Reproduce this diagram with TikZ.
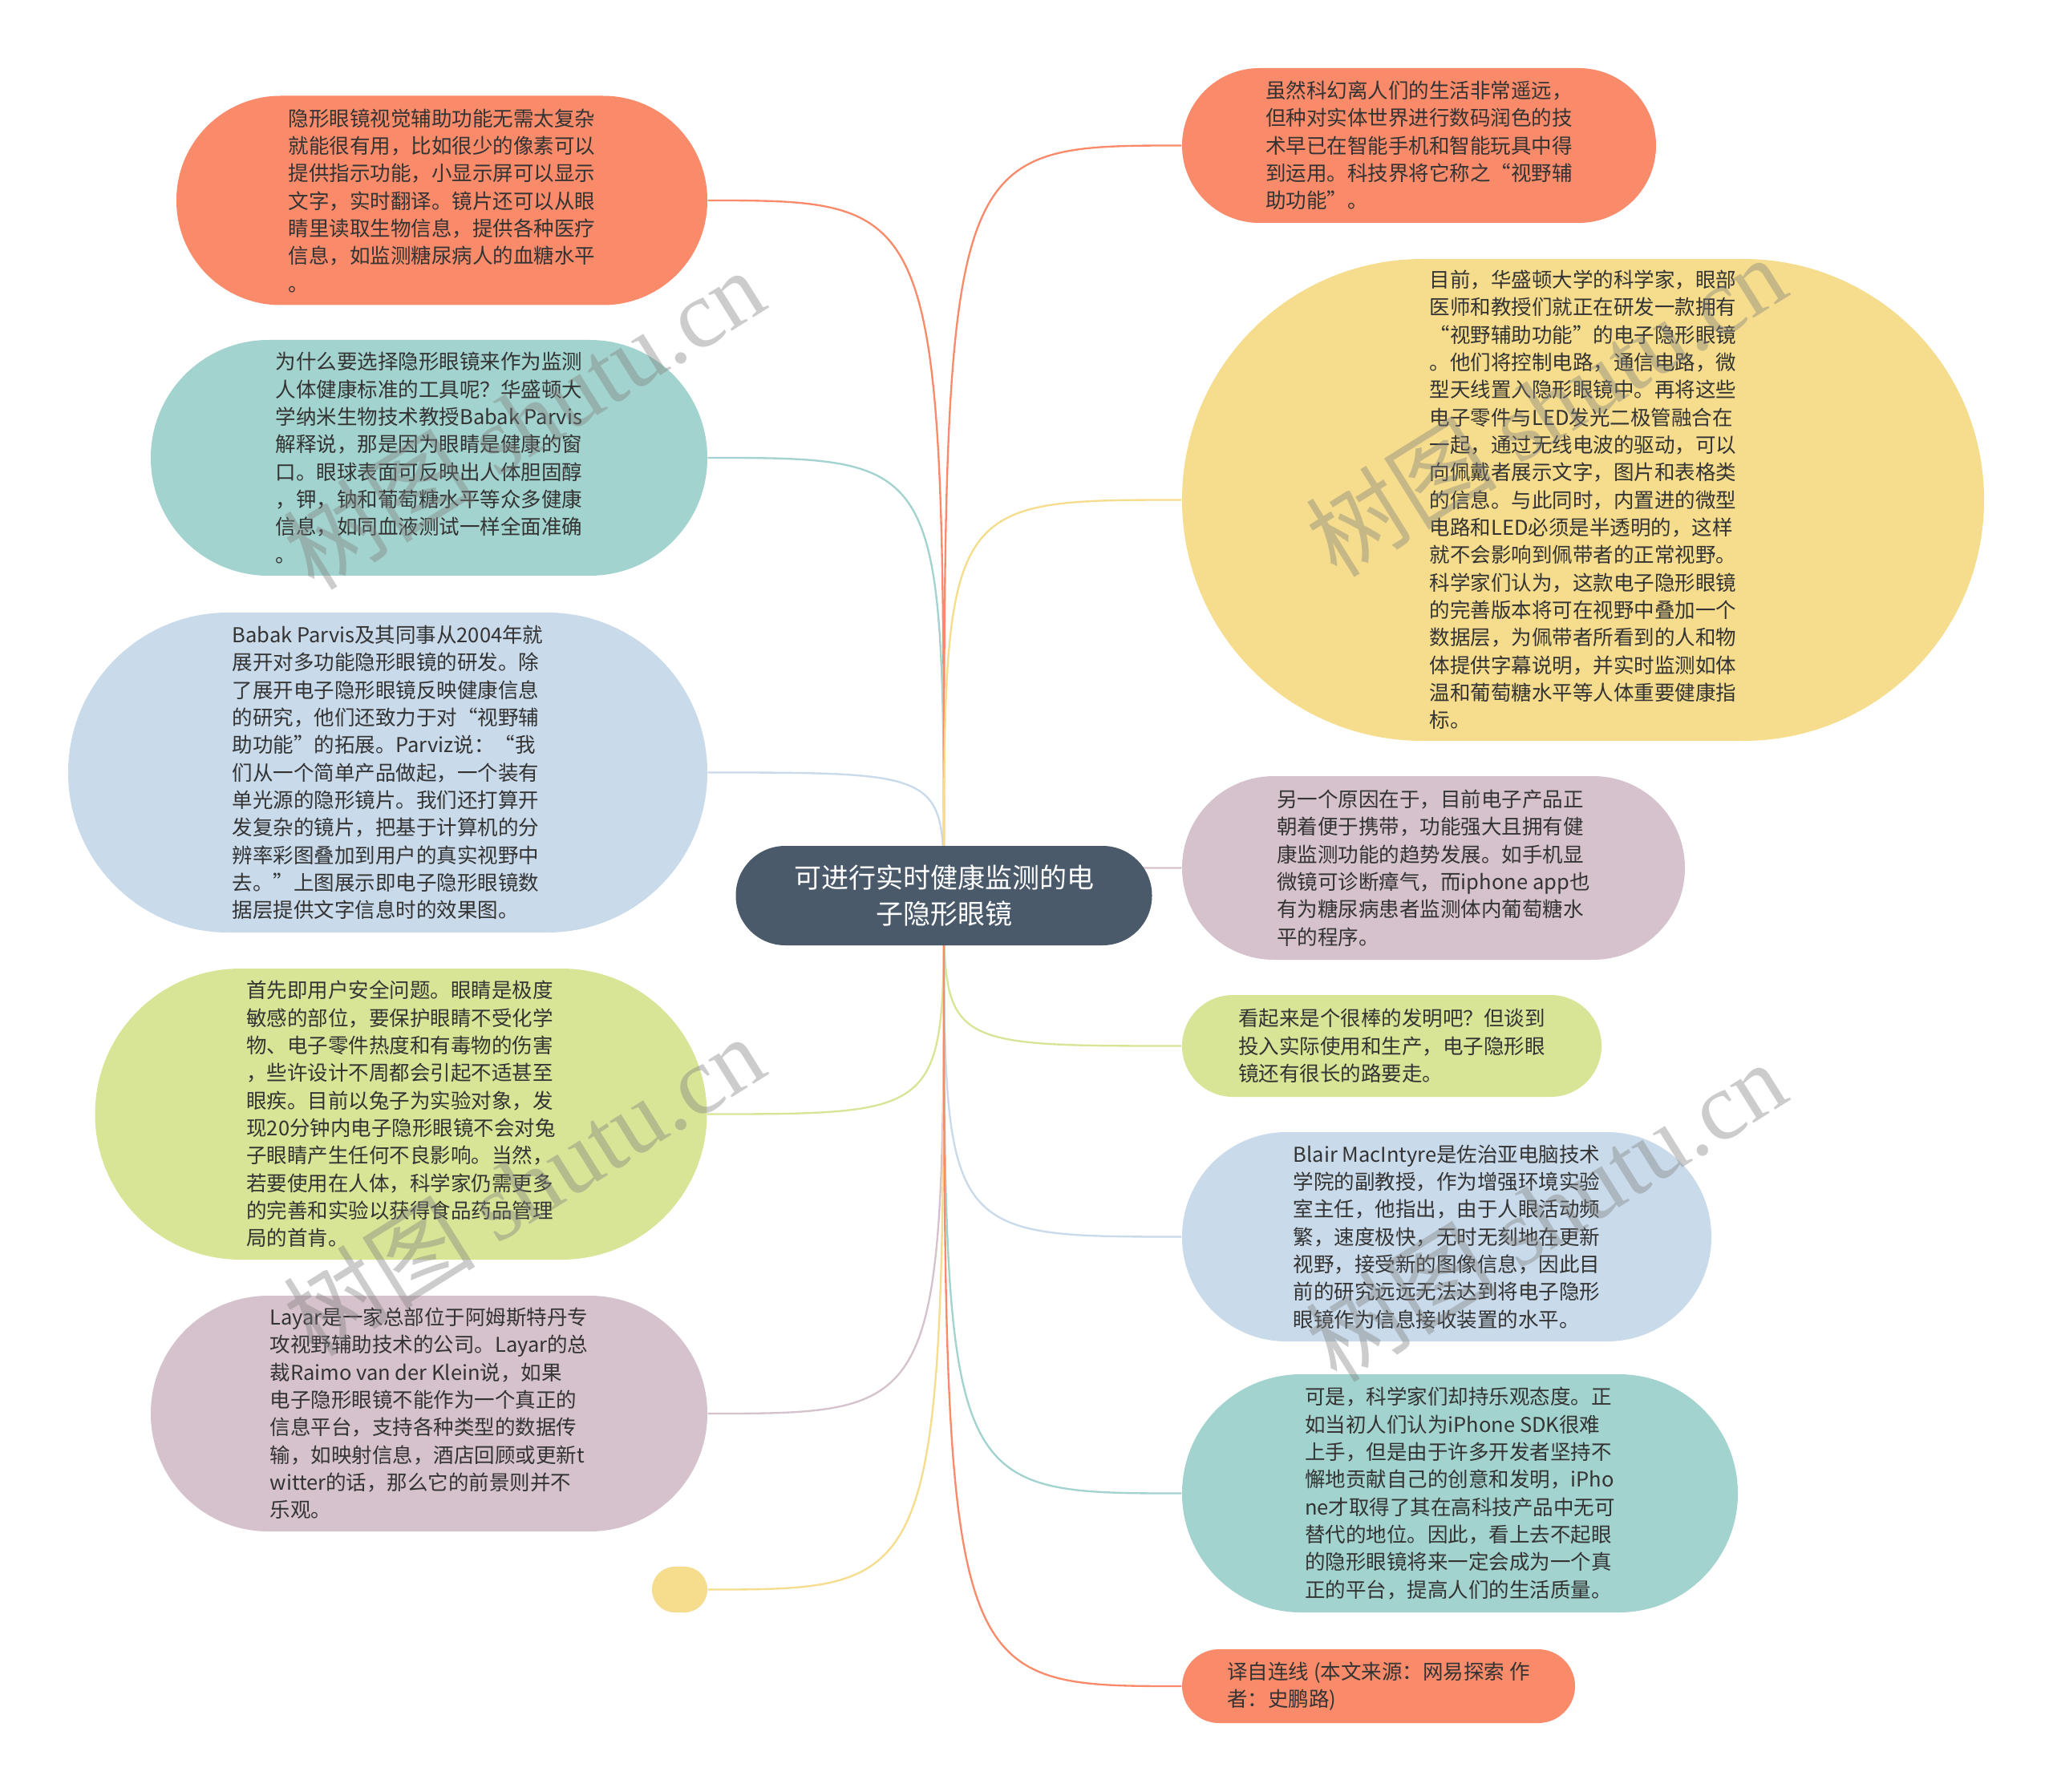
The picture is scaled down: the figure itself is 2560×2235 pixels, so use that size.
\documentclass[tikz,border=0pt]{standalone}
\usepackage{fontspec}
\setmainfont{Noto Sans CJK SC}
\newfontfamily\wmserif{Liberation Serif}
\definecolor{corange}{HTML}{F98B6B}
\definecolor{cteal}{HTML}{A3D3CE}
\definecolor{cblue}{HTML}{C9DAEA}
\definecolor{cgreen}{HTML}{D8E597}
\definecolor{cpink}{HTML}{D6C2CC}
\definecolor{cyellow}{HTML}{F6DD8D}
\definecolor{croot}{HTML}{4A5A6A}
\definecolor{textc}{HTML}{333333}
\pgfdeclarelayer{bg}
\pgfsetlayers{bg,main}
\tikzset{
  box/.style={inner sep=0pt, align=left, text=textc, font=\fontsize{7.65pt}{10.3pt}\selectfont},
  rootbox/.style={inner sep=0pt, align=center, text=white, fill=croot, font=\fontsize{10.2pt}{13.7pt}\selectfont,
    minimum width=155.7pt, minimum height=37.2pt, rounded corners=18.5pt},
  edge/.style={line width=0.7pt},
  wm/.style={text=gray, text opacity=0.4, font=\fontsize{36pt}{40pt}\selectfont, rotate=32}
}
\begin{document}
\begin{tikzpicture}[x=0.3pt,y=-0.3pt]
\useasboundingbox (0,0) rectangle (2560,2235);

\node[rootbox] (root) at (1177,1117) {可进行实时健康监测的电\\子隐形眼镜};

% left side
\node[box, fill=corange, minimum width=198.6pt, minimum height=78.3pt, rounded corners=39pt] (l1) at (551,250) {隐形眼镜视觉辅助功能无需太复杂\\就能很有用，比如很少的像素可以\\提供指示功能，小显示屏可以显示\\文字，实时翻译。镜片还可以从眼\\睛里读取生物信息，提供各种医疗\\信息，如监测糖尿病人的血糖水平\\。};
\node[box, fill=cteal, minimum width=208.2pt, minimum height=88.2pt, rounded corners=44pt] (l2) at (535,571) {为什么要选择隐形眼镜来作为监测\\人体健康标准的工具呢？华盛顿大\\学纳米生物技术教授Babak Parvis\\解释说，那是因为眼睛是健康的窗\\口。眼球表面可反映出人体胆固醇\\，钾，钠和葡萄糖水平等众多健康\\信息，如同血液测试一样全面准确\\。};
\node[box, fill=cblue, minimum width=239.1pt, minimum height=119.7pt, rounded corners=59.8pt] (l3) at (483.5,963.5) {Babak Parvis及其同事从2004年就\\展开对多功能隐形眼镜的研发。除\\了展开电子隐形眼镜反映健康信息\\的研究，他们还致力于对“视野辅\\助功能”的拓展。Parviz说：“我\\们从一个简单产品做起，一个装有\\单光源的隐形镜片。我们还打算开\\发复杂的镜片，把基于计算机的分\\辨率彩图叠加到用户的真实视野中\\去。”上图展示即电子隐形眼镜数\\据层提供文字信息时的效果图。};
\node[box, fill=cgreen, minimum width=228.9pt, minimum height=108.9pt, rounded corners=54.4pt] (l4) at (500,1389.5) {首先即用户安全问题。眼睛是极度\\敏感的部位，要保护眼睛不受化学\\物、电子零件热度和有毒物的伤害\\，些许设计不周都会引起不适甚至\\眼疾。目前以兔子为实验对象，发\\现20分钟内电子隐形眼镜不会对兔\\子眼睛产生任何不良影响。当然，\\若要使用在人体，科学家仍需更多\\的完善和实验以获得食品药品管理\\局的首肯。};
\node[box, fill=cpink, minimum width=208.2pt, minimum height=88.2pt, rounded corners=44pt] (l5) at (535,1763) {Layar是一家总部位于阿姆斯特丹专\\攻视野辅助技术的公司。Layar的总\\裁Raimo van der Klein说，如果\\电子隐形眼镜不能作为一个真正的\\信息平台，支持各种类型的数据传\\输，如映射信息，酒店回顾或更新t\\witter的话，那么它的前景则并不\\乐观。};
\node[box, fill=cyellow, minimum width=20.7pt, minimum height=17.1pt, rounded corners=8.5pt] (l6) at (847.5,1982.5) {};

% right side
\node[box, fill=corange, minimum width=177.3pt, minimum height=57.9pt, rounded corners=28.9pt] (r1) at (1769.5,181.5) {虽然科幻离人们的生活非常遥远，\\但种对实体世界进行数码润色的技\\术早已在智能手机和智能玩具中得\\到运用。科技界将它称之“视野辅\\助功能”。};
\node[box, fill=cyellow, minimum width=300pt, minimum height=180.3pt, rounded corners=90pt] (r2) at (1974,623.5) {目前，华盛顿大学的科学家，眼部\\医师和教授们就正在研发一款拥有\\“视野辅助功能”的电子隐形眼镜\\。他们将控制电路，通信电路，微\\型天线置入隐形眼镜中。再将这些\\电子零件与LED发光二极管融合在\\一起，通过无线电波的驱动，可以\\向佩戴者展示文字，图片和表格类\\的信息。与此同时，内置进的微型\\电路和LED必须是半透明的，这样\\就不会影响到佩带者的正常视野。\\科学家们认为，这款电子隐形眼镜\\的完善版本将可在视野中叠加一个\\数据层，为佩带者所看到的人和物\\体提供字幕说明，并实时监测如体\\温和葡萄糖水平等人体重要健康指\\标。};
\node[box, fill=cpink, minimum width=188.1pt, minimum height=68.7pt, rounded corners=34.3pt] (r3) at (1787.5,1082.5) {另一个原因在于，目前电子产品正\\朝着便于携带，功能强大且拥有健\\康监测功能的趋势发展。如手机显\\微镜可诊断瘴气，而iphone app也\\有为糖尿病患者监测体内葡萄糖水\\平的程序。};
\node[box, fill=cgreen, minimum width=156.9pt, minimum height=38.1pt, rounded corners=19pt] (r4) at (1735.5,1304.5) {看起来是个很棒的发明吧？但谈到\\投入实际使用和生产，电子隐形眼\\镜还有很长的路要走。};
\node[box, fill=cblue, minimum width=198pt, minimum height=78.3pt, rounded corners=39pt] (r5) at (1804,1542.5) {Blair MacIntyre是佐治亚电脑技术\\学院的副教授，作为增强环境实验\\室主任，他指出，由于人眼活动频\\繁，速度极快，无时无刻地在更新\\视野，接受新的图像信息，因此目\\前的研究远远无法达到将电子隐形\\眼镜作为信息接收装置的水平。};
\node[box, fill=cteal, minimum width=207.9pt, minimum height=89.1pt, rounded corners=44.5pt] (r6) at (1820.5,1862.5) {可是，科学家们却持乐观态度。正\\如当初人们认为iPhone SDK很难\\上手，但是由于许多开发者坚持不\\懈地贡献自己的创意和发明，iPho\\ne才取得了其在高科技产品中无可\\替代的地位。因此，看上去不起眼\\的隐形眼镜将来一定会成为一个真\\正的平台，提高人们的生活质量。};
\node[box, fill=corange, minimum width=147pt, minimum height=27.6pt, rounded corners=13.8pt] (r7) at (1719,2103) {译自连线 (本文来源：网易探索 作\\者：史鹏路)};

% connectors
\begin{pgfonlayer}{bg}
\fill[white] (0,0) rectangle (2560,2235);
\draw[edge, corange] (root.center) .. controls (root.center |- l1.east) .. (l1.east);
\draw[edge, cteal] (root.center) .. controls (root.center |- l2.east) .. (l2.east);
\draw[edge, cblue] (root.center) .. controls (root.center |- l3.east) .. (l3.east);
\draw[edge, cgreen] (root.center) .. controls (root.center |- l4.east) .. (l4.east);
\draw[edge, cpink] (root.center) .. controls (root.center |- l5.east) .. (l5.east);
\draw[edge, cyellow] (root.center) .. controls (root.center |- l6.east) .. (l6.east);
\draw[edge, corange] (root.center) .. controls (root.center |- r1.west) .. (r1.west);
\draw[edge, cyellow] (root.center) .. controls (root.center |- r2.west) .. (r2.west);
\draw[edge, cpink] (root.center) .. controls (root.center |- r3.west) .. (r3.west);
\draw[edge, cgreen] (root.center) .. controls (root.center |- r4.west) .. (r4.west);
\draw[edge, cblue] (root.center) .. controls (root.center |- r5.west) .. (r5.west);
\draw[edge, cteal] (root.center) .. controls (root.center |- r6.west) .. (r6.west);
\draw[edge, corange] (root.center) .. controls (root.center |- r7.west) .. (r7.west);
\end{pgfonlayer}

% watermarks
\node[wm] (w1) at (653,522) {树图 {\wmserif shutu.cn}};
\node[wm] (w2) at (1927,506) {树图 {\wmserif shutu.cn}};
\node[wm] (w3) at (653,1478) {树图 {\wmserif shutu.cn}};
\node[wm] (w4) at (1927,1510) {树图 {\wmserif shutu.cn}};
\end{tikzpicture}
\end{document}
